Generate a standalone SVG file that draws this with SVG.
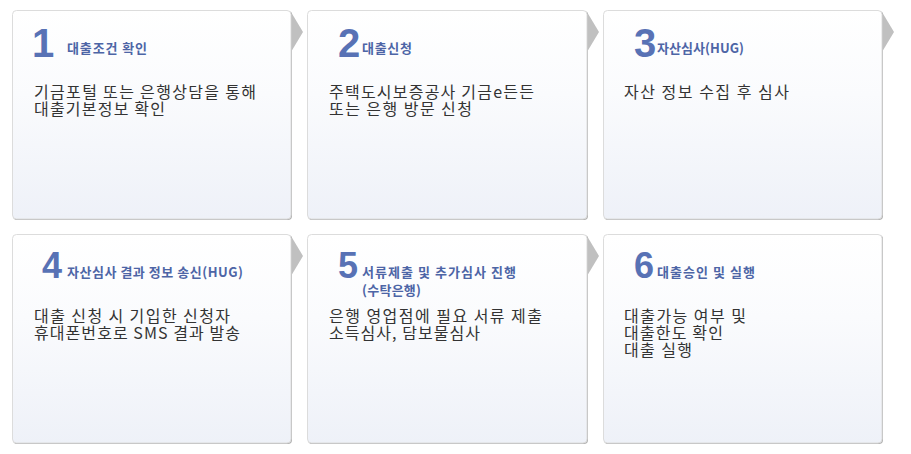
<svg xmlns="http://www.w3.org/2000/svg" width="911" height="454" viewBox="0 0 911 454">
<style>
.box{fill:url(#bg);stroke:#dcdcdc;stroke-width:1}
.shadow{fill:#b4b4b4}
.arrow{fill:#c0c0c0}
.num{font-family:"Liberation Sans",Arial,sans-serif;font-weight:bold;fill:#5872b5}
.title{font-family:"Noto Sans CJK KR","Noto Sans",sans-serif;font-size:13px;font-weight:bold;fill:#4d65a6}
.body{font-family:"Noto Sans CJK KR","Noto Sans",sans-serif;font-size:16px;fill:#333333}
</style>
<defs>
<linearGradient id="bg" x1="0" y1="0" x2="0" y2="1">
<stop offset="0" stop-color="#ffffff"/>
<stop offset="0.4" stop-color="#fafbfd"/>
<stop offset="1" stop-color="#eef1f8"/>
</linearGradient>
</defs>
<rect width="911" height="454" fill="#ffffff"/>
<g id="connectors">
<polygon class="arrow" points="291,12 303,32 291,52"/>
<polygon class="arrow" points="587,12 599,32 587,52"/>
<polygon class="arrow" points="882,12 894,32 882,52"/>
<polygon class="arrow" points="291,236 303,256 291,276"/>
<polygon class="arrow" points="587,236 599,256 587,276"/>
</g>
<g id="node1">
<rect class="shadow" x="13" y="11" width="279" height="209" rx="4"/>
<rect class="box" x="12.5" y="10.5" width="278.5" height="208.5" rx="4"/>
<text class="num" x="32" y="57" font-size="40">1</text>
<text class="title" x="67" y="52.5" textLength="80" lengthAdjust="spacing">대출조건 확인</text>
<text class="body"><tspan x="34" y="98" textLength="222" lengthAdjust="spacing">기금포털 또는 은행상담을 통해</tspan><tspan x="34" y="114.5" textLength="131" lengthAdjust="spacing">대출기본정보 확인</tspan></text>
</g>
<g id="node2">
<rect class="shadow" x="308" y="11" width="280" height="209" rx="4"/>
<rect class="box" x="307.5" y="10.5" width="279.5" height="208.5" rx="4"/>
<text class="num" x="338" y="57" font-size="40">2</text>
<text class="title" x="362" y="52.5" textLength="50" lengthAdjust="spacing">대출신청</text>
<text class="body"><tspan x="329" y="98" textLength="205" lengthAdjust="spacing">주택도시보증공사 기금e든든</tspan><tspan x="329" y="114.5" textLength="143" lengthAdjust="spacing">또는 은행 방문 신청</tspan></text>
</g>
<g id="node3">
<rect class="shadow" x="604" y="11" width="279" height="209" rx="4"/>
<rect class="box" x="603.5" y="10.5" width="278.5" height="208.5" rx="4"/>
<text class="num" x="634" y="57" font-size="40">3</text>
<text class="title" x="657" y="52.5" textLength="87" lengthAdjust="spacing">자산심사(HUG)</text>
<text class="body" x="624" y="98" textLength="165" lengthAdjust="spacing">자산 정보 수집 후 심사</text>
</g>
<g id="node4">
<rect class="shadow" x="13" y="235" width="279" height="209" rx="4"/>
<rect class="box" x="12.5" y="234.5" width="278.5" height="208.5" rx="4"/>
<text class="num" x="42" y="278" font-size="36">4</text>
<text class="title" x="67" y="277" textLength="176" lengthAdjust="spacing">자산심사 결과 정보 송신(HUG)</text>
<text class="body"><tspan x="34" y="322" textLength="196" lengthAdjust="spacing">대출 신청 시 기입한 신청자</tspan><tspan x="34" y="339" textLength="206" lengthAdjust="spacing">휴대폰번호로 SMS 결과 발송</tspan></text>
</g>
<g id="node5">
<rect class="shadow" x="308" y="235" width="280" height="209" rx="4"/>
<rect class="box" x="307.5" y="234.5" width="279.5" height="208.5" rx="4"/>
<text class="num" x="338" y="278" font-size="36">5</text>
<text class="title"><tspan x="362" y="277" textLength="154" lengthAdjust="spacing">서류제출 및 추가심사 진행</tspan><tspan x="362" y="295" textLength="59" lengthAdjust="spacing">(수탁은행)</tspan></text>
<text class="body"><tspan x="329" y="322" textLength="213" lengthAdjust="spacing">은행 영업점에 필요 서류 제출</tspan><tspan x="329" y="339" textLength="151" lengthAdjust="spacing">소득심사, 담보물심사</tspan></text>
</g>
<g id="node6">
<rect class="shadow" x="604" y="235" width="279" height="209" rx="4"/>
<rect class="box" x="603.5" y="234.5" width="278.5" height="208.5" rx="4"/>
<text class="num" x="634" y="278" font-size="36">6</text>
<text class="title" x="657" y="277" textLength="98" lengthAdjust="spacing">대출승인 및 실행</text>
<text class="body"><tspan x="624" y="322" textLength="122" lengthAdjust="spacing">대출가능 여부 및</tspan><tspan x="624" y="339" textLength="99" lengthAdjust="spacing">대출한도 확인</tspan><tspan x="624" y="356" textLength="68" lengthAdjust="spacing">대출 실행</tspan></text>
</g>
</svg>
